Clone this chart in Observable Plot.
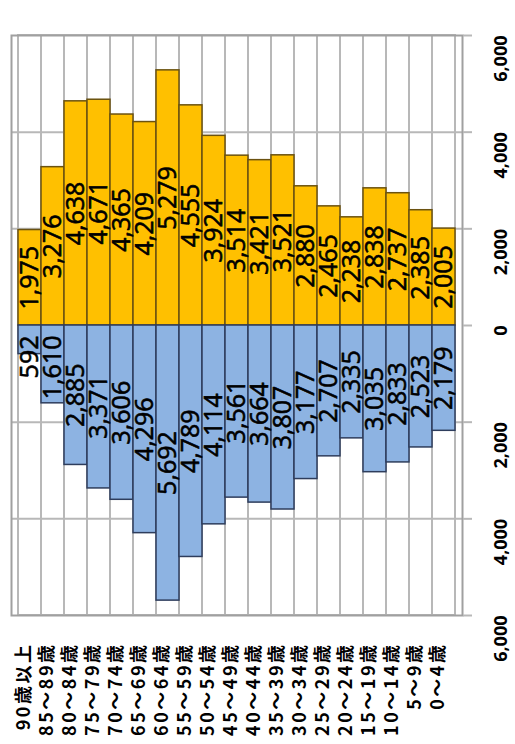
<!DOCTYPE html>
<html>
<head>
<meta charset="utf-8">
<script src="https://cdn.jsdelivr.net/npm/d3@7"></script>
<script src="https://cdn.jsdelivr.net/npm/@observablehq/plot@0.6"></script>
<style>
  html, body { margin: 0; padding: 0; background: #fff; }
  #chart svg { display: block; }
</style>
</head>
<body>
<div id="chart"></div>
<script>
const ages = ["90歳以上","85～89歳","80～84歳","75～79歳","70～74歳","65～69歳","60～64歳","55～59歳","50～54歳","45～49歳","40～44歳","35～39歳","30～34歳","25～29歳","20～24歳","15～19歳","10～14歳","5～9歳","0～4歳"];
const female = [1975,3276,4638,4671,4365,4209,5279,4555,3924,3514,3421,3521,2880,2465,2238,2838,2737,2385,2005];
const male = [592,1610,2885,3371,3606,4296,5692,4789,4114,3561,3664,3807,3177,2707,2335,3035,2833,2523,2179];
const tickVals = [-6000,-4000,-2000,0,2000,4000,6000];

const fem = ages.map((a,i) => ({age:a, v:female[i]}));
const mal = ages.map((a,i) => ({age:a, v:-male[i], val:male[i]}));
const fmt = d3.format(",");

const valFont = "'Open Sans', sans-serif";
const valStyle = {rotate: -90, fontSize: 25, fill: "#000", stroke: "#000", strokeWidth: 0.6};
const plot = Plot.plot({
  width: 515, height: 744,
  marginLeft: 11, marginRight: 53, marginTop: 35, marginBottom: 129,
  style: {background: "#fff", fontFamily: valFont},
  x: {domain: ages, padding: 0, axis: null},
  y: {domain: [-6000, 6000], axis: null},
  marks: [
    Plot.barY(ages, {x: d => d, y1: -6000, y2: 6000, fill: "#fff", stroke: "#b8b8b8", strokeWidth: 2}),
    Plot.ruleY(tickVals.filter(t => Math.abs(t) < 6000 && t !== 0), {stroke: "#b8b8b8", strokeWidth: 2}),
    Plot.barY(fem, {x: "age", y1: 0, y2: "v", fill: "#FFC000", stroke: "#6b5210", strokeWidth: 1.5}),
    Plot.barY(mal, {x: "age", y1: 0, y2: "v", fill: "#8DB3E2", stroke: "#2e3d5c", strokeWidth: 1.5}),
    Plot.frame({stroke: "#a0a0a0", strokeWidth: 2}),
    Plot.axisY(tickVals, {anchor: "right", label: null, tickSize: 9, tickFormat: () => "", stroke: "#b8b8b8", strokeWidth: 2}),
    // value labels (centered)
    Plot.text(fem, {x: "age", y: d => d.v / 2, text: d => fmt(d.v), ...valStyle}),
    Plot.text(mal.filter(d => d.val >= 2000), {x: "age", y: d => d.v / 2, text: d => fmt(d.val), ...valStyle}),
    // short bars: labels pushed off the axis
    Plot.text(mal.filter(d => d.val < 2000), {x: "age", y: 0, dy: 10, textAnchor: "end", text: d => fmt(d.val), ...valStyle}),
    // value axis labels
    Plot.text(tickVals, {y: d => d, frameAnchor: "right", dx: 39, text: d => fmt(Math.abs(d)), rotate: -90, fontSize: 18, fontWeight: "bold", fill: "#000"}),
    // category labels
    Plot.text(ages, {x: d => d, frameAnchor: "bottom", dy: 27, textAnchor: "end", text: d => d, rotate: -90, fontSize: 18, fontWeight: "bold", fill: "#000", fontFamily: "'Noto Sans CJK JP', sans-serif"})
  ]
});
d3.select(plot).selectAll("text").filter(function() { return /歳/.test(this.textContent); }).style("letter-spacing", "2.5px");
document.getElementById("chart").appendChild(plot);
</script>
</body>
</html>
